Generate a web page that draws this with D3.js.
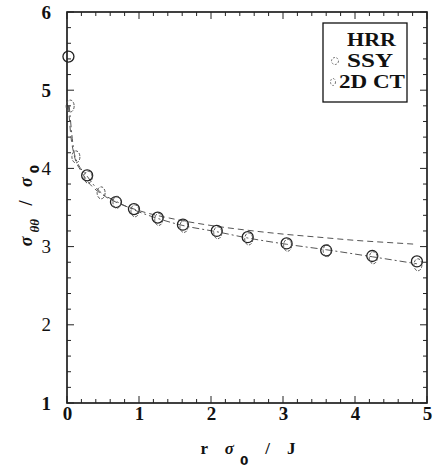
<!DOCTYPE html>
<html><head><meta charset="utf-8">
<script src="https://cdn.jsdelivr.net/npm/d3@7"></script>
<style>body{margin:0;background:#fff;} svg{display:block;} svg text{font-family:"Liberation Serif","Times New Roman",serif;}</style>
</head><body>
<script>
// Data
const xTicks = [0, 1, 2, 3, 4, 5];
const yTicks = [1, 2, 3, 4, 5, 6];
const hrrX = [0.02, 0.05, 0.1, 0.2, 0.3, 0.5, 0.7, 1.0, 1.5, 2.0, 2.5, 3.0, 3.5, 4.0, 4.5, 4.85];
const hrrY = [4.8, 4.45, 4.17, 3.96, 3.82, 3.66, 3.56, 3.46, 3.35, 3.27, 3.21, 3.16, 3.12, 3.08, 3.05, 3.03];
const ssyX = [0.02, 0.28, 0.68, 0.93, 1.26, 1.61, 2.08, 2.51, 3.05, 3.6, 4.24, 4.86];
const ssyY = [5.43, 3.91, 3.57, 3.48, 3.37, 3.28, 3.2, 3.12, 3.04, 2.95, 2.88, 2.81];
const ctX = [0.03, 0.11, 0.28, 0.46, 0.68, 0.93, 1.26, 1.61, 2.08, 2.51, 3.05, 3.6, 4.24, 4.86];
const ctY = [4.81, 4.16, 3.9, 3.7, 3.58, 3.47, 3.36, 3.27, 3.19, 3.11, 3.03, 2.96, 2.87, 2.78];
const legendLabels = ["HRR", "SSY", "2D CT"];

const W = 437, H = 475;
const m = {left: 67, right: 10, top: 12, bottom: 72};
const svg = d3.select("body").append("svg").attr("width", W).attr("height", H);
const x = d3.scaleLinear().domain([0, 5]).range([m.left, W - m.right]);
const y = d3.scaleLinear().domain([1, 6]).range([H - m.bottom, m.top]);

// frame
svg.append("rect").attr("x", x(0)).attr("y", y(6)).attr("width", x(5) - x(0)).attr("height", y(1) - y(6))
  .attr("fill", "none").attr("stroke", "#111").attr("stroke-width", 1.6);

// ticks (inward, mirrored)
const minorX = d3.range(0, 5.001, 0.2);
const minorY = d3.range(1, 6.001, 0.2);
const tg = svg.append("g").attr("stroke", "#222").attr("stroke-width", 1);
minorX.forEach(v => {
  const major = Math.abs(v - Math.round(v)) < 1e-6;
  const L = major ? 7 : 4;
  tg.append("line").attr("x1", x(v)).attr("x2", x(v)).attr("y1", y(1)).attr("y2", y(1) - L);
  tg.append("line").attr("x1", x(v)).attr("x2", x(v)).attr("y1", y(6)).attr("y2", y(6) + L);
});
minorY.forEach(v => {
  const major = Math.abs(v - Math.round(v)) < 1e-6;
  const L = major ? 7 : 4;
  tg.append("line").attr("x1", x(0)).attr("x2", x(0) + L).attr("y1", y(v)).attr("y2", y(v));
  tg.append("line").attr("x1", x(5)).attr("x2", x(5) - L).attr("y1", y(v)).attr("y2", y(v));
});

// tick labels via d3 axes (lines hidden)
const xAxis = svg.append("g").attr("transform", `translate(0,${y(1)})`)
  .call(d3.axisBottom(x).tickValues(xTicks).tickFormat(d3.format("d")).tickSize(0).tickPadding(4));
xAxis.select(".domain").remove();
xAxis.selectAll("text").attr("font-size", 19).attr("font-weight", "bold").attr("fill", "#111");
const yAxis = svg.append("g").attr("transform", `translate(${x(0)},0)`)
  .call(d3.axisLeft(y).tickValues(yTicks).tickFormat(d3.format("d")).tickSize(0).tickPadding(16));
yAxis.select(".domain").remove();
yAxis.selectAll("text").attr("font-size", 19).attr("font-weight", d => (d >= 5 || d === 1) ? "bold" : "normal").attr("fill", "#111");
svg.selectAll("g").attr("font-family", null);

// lines
const line = d3.line().x(d => x(d[0])).y(d => y(d[1])).curve(d3.curveMonotoneX);
svg.append("path").datum(hrrX.map((v, i) => [v, hrrY[i]]))
  .attr("d", line).attr("fill", "none").attr("stroke", "#555").attr("stroke-width", 1)
  .attr("stroke-dasharray", "6,4");
svg.append("path").datum(ctX.map((v, i) => [v, ctY[i]]))
  .attr("d", line).attr("fill", "none").attr("stroke", "#555").attr("stroke-width", 1)
  .attr("stroke-dasharray", "7,3,2,3");

// markers
svg.append("g").selectAll("circle").data(ssyX.map((v, i) => [v, ssyY[i]])).join("circle")
  .attr("cx", d => x(d[0])).attr("cy", d => y(d[1])).attr("r", 5.5)
  .attr("fill", "none").attr("stroke", "#222").attr("stroke-width", 1.3);
svg.append("g").selectAll("ellipse").data(ctX.map((v, i) => [v, ctY[i]])).join("ellipse")
  .attr("cx", d => x(d[0]) + 1).attr("cy", d => y(d[1]) + 1).attr("rx", 4).attr("ry", 6)
  .attr("fill", "none").attr("stroke", "#555").attr("stroke-width", 1).attr("stroke-dasharray", "3,1.5");

// legend
const lg = svg.append("g");
lg.append("rect").attr("x", 323).attr("y", 23).attr("width", 84).attr("height", 79)
  .attr("fill", "#fff").attr("stroke", "#111").attr("stroke-width", 1.3);
const lys = [46, 67, 88];
const lxs = [347, 347, 339];
legendLabels.forEach((t, i) => {
  lg.append("text").attr("x", lxs[i]).attr("y", lys[i]).text(t)
    .attr("font-size", 19).attr("font-weight", "bold").attr("fill", "#111")
    .attr("textLength", [49, 46, 66][i]).attr("lengthAdjust", "spacingAndGlyphs");
});
lg.append("circle").attr("cx", 335).attr("cy", 61).attr("r", 3.5).attr("fill", "none").attr("stroke", "#777").attr("stroke-dasharray", "2,1.5");
lg.append("ellipse").attr("cx", 333).attr("cy", 82).attr("rx", 2.5).attr("ry", 3.5).attr("fill", "none").attr("stroke", "#777").attr("stroke-dasharray", "2,1.5");

// x axis title
const xt = svg.append("text").attr("x", 248).attr("y", 454).attr("text-anchor", "middle")
  .attr("font-size", 17).attr("font-weight", "bold").attr("fill", "#111")
  .style("white-space", "pre");
xt.append("tspan").text("r    ");
xt.append("tspan").attr("font-style", "italic").text("σ");
xt.append("tspan").attr("font-size", 12).attr("dy", 11).attr("dx", 6).style("font-family", "'DejaVu Sans'").text("0");
xt.append("tspan").attr("dy", -11).text("    /    J");

// y axis title (rotated)
const yt = svg.append("text").attr("transform", `translate(32,${(y(1)+y(6))/2 - 2}) rotate(-90)`)
  .attr("text-anchor", "middle").attr("font-size", 18).attr("font-weight", "bold").attr("fill", "#111")
  .style("white-space", "pre");
yt.append("tspan").attr("font-style", "italic").text("σ");
yt.append("tspan").attr("font-size", 13).attr("dy", 7).attr("dx", 4).attr("font-style", "italic").text("θθ");
yt.append("tspan").attr("dy", -7).text("   /   ");
yt.append("tspan").attr("font-style", "italic").text("σ");
yt.append("tspan").attr("font-size", 12).attr("dy", 7).attr("dx", 4).style("font-family", "'DejaVu Sans'").text("0");
</script>
</body></html>
